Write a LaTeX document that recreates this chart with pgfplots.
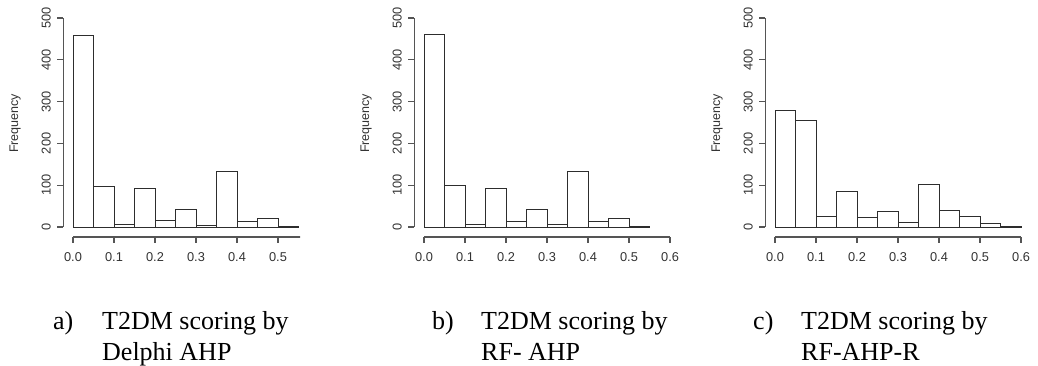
\documentclass[border=0pt]{standalone}
\usepackage{fontspec}
\setmainfont{Liberation Serif}
\newfontfamily\sansf{Liberation Sans}
\usepackage{pgfplots}
\pgfplotsset{compat=1.18}
\definecolor{axcol}{RGB}{85,85,85}
\definecolor{barcol}{RGB}{45,45,45}
\definecolor{txtcol}{RGB}{50,50,50}
\pgfplotsset{
  rhist/.style={
    anchor=south west,
    scale only axis, width=265.7pt, height=227.4pt,
    xmin=-0.024, xmax=0.624, ymin=-24, ymax=520,
    clip=false,
    axis lines*=left, axis line style={draw=none},
    tick align=outside, major tick length=6pt,
    tick style={draw=axcol, line width=1.1pt},
    xtick={0,0.1,0.2,0.3,0.4,0.5,0.6},
    xticklabels={0.0,0.1,0.2,0.3,0.4,0.5,0.6},
    ytick={0,100,200,300,400,500},
    yticklabels={0,100,200,300,400,500},
    ticklabel style={font=\sansf\fontsize{12.8}{15}\selectfont, text=txtcol},
    xticklabel style={yshift=-6.5pt},
    yticklabel style={xshift=-3pt, rotate=90, anchor=south},
    ylabel={Frequency},
    every axis y label/.style={at={(axis description cs:-0.181,0.5)}, rotate=90, anchor=center,
      font=\sansf\fontsize{12.5}{15}\selectfont, text=txtcol},
  },
  hbars/.style={ybar interval, draw=barcol, fill=white, line width=0.9pt},
}
\begin{document}
\begin{tikzpicture}
\useasboundingbox (0,0) rectangle (1038pt,366pt);
% panel a (cropped at the right as in the reference)
\begin{scope}
\clip (0,0) rectangle (300pt,366pt);
\begin{axis}[rhist, at={(63.16pt,129pt)}]
\addplot[hbars] coordinates {
(0.00,459) (0.05,98) (0.10,6) (0.15,92) (0.20,15) (0.25,43)
(0.30,4) (0.35,132) (0.40,13) (0.45,21) (0.50,1) (0.55,1)};
\draw[axcol, line width=1.1pt] (axis cs:0,-24) -- (axis cs:0.6,-24);
\draw[axcol, line width=1.1pt] (axis cs:-0.024,0) -- (axis cs:-0.024,500);
\end{axis}
\end{scope}
% panel b
\begin{axis}[rhist, at={(414.16pt,129pt)}]
\addplot[hbars] coordinates {
(0.00,461) (0.05,99) (0.10,7) (0.15,91) (0.20,14) (0.25,43)
(0.30,5) (0.35,133) (0.40,12) (0.45,21) (0.50,1) (0.55,1)};
\draw[axcol, line width=1.1pt] (axis cs:0,-24) -- (axis cs:0.6,-24);
\draw[axcol, line width=1.1pt] (axis cs:-0.024,0) -- (axis cs:-0.024,500);
\end{axis}
% panel c
\begin{axis}[rhist, at={(765.16pt,129pt)}]
\addplot[hbars] coordinates {
(0.00,278) (0.05,256) (0.10,24) (0.15,85) (0.20,22) (0.25,37)
(0.30,10) (0.35,102) (0.40,40) (0.45,26) (0.50,8) (0.55,1) (0.60,1)};
\draw[axcol, line width=1.1pt] (axis cs:0,-24) -- (axis cs:0.6,-24);
\draw[axcol, line width=1.1pt] (axis cs:-0.024,0) -- (axis cs:-0.024,500);
\end{axis}
% captions
\begin{scope}[every node/.style={anchor=base west, inner sep=0pt, font=\fontsize{26}{30}\selectfont}]
\node at (53pt,36pt) {a)};
\node at (102pt,36pt) {T2DM scoring by};
\node at (102pt,5.5pt) {Delphi AHP};
\node at (432pt,36pt) {b)};
\node at (481pt,36pt) {T2DM scoring by};
\node at (481pt,5.5pt) {RF- AHP};
\node at (753pt,36pt) {c)};
\node at (801pt,36pt) {T2DM scoring by};
\node at (801pt,5.5pt) {RF-AHP-R};
\end{scope}
\end{tikzpicture}
\end{document}
